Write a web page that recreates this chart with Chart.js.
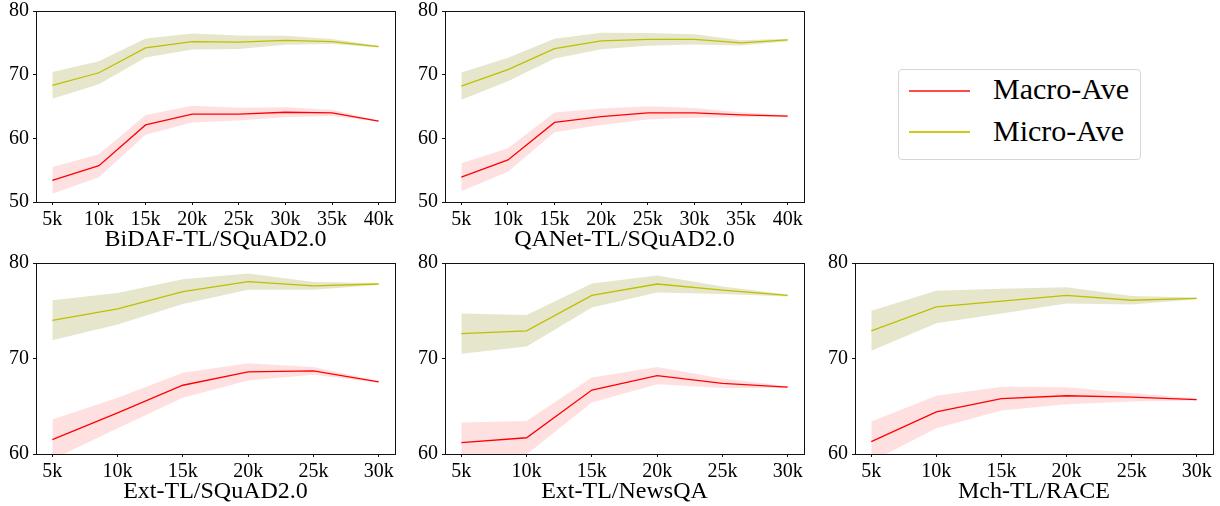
<!DOCTYPE html>
<html>
<head>
<meta charset="utf-8">
<script src="https://cdn.jsdelivr.net/npm/chart.js@4.4.1/dist/chart.umd.min.js"></script>
<style>
  body { margin: 0; background: #fff; width: 1220px; height: 506px; overflow: hidden; position: relative; font-family: "Liberation Serif", serif; }
  .panel { position: absolute; }
  #legend { position: absolute; left: 898px; top: 69px; width: 243px; height: 91px; border: 1px solid #d6d6d6; border-radius: 4px; box-sizing: border-box; }
  .item { position: absolute; left: 94px; font-size: 30px; line-height: 30px; color: #000; white-space: nowrap; }
  .swatch { position: absolute; left: 10px; width: 61px; height: 2px; }
</style>
</head>
<body>
<div class="panel" id="p1"><canvas id="c1"></canvas></div>
<div class="panel" id="p2"><canvas id="c2"></canvas></div>
<div class="panel" id="p3"><canvas id="c3"></canvas></div>
<div class="panel" id="p4"><canvas id="c4"></canvas></div>
<div class="panel" id="p5"><canvas id="c5"></canvas></div>
<div id="legend">
  <div class="swatch" style="top:20px;background:#ff4a4a"></div>
  <div class="item" style="top:4px">Macro-Ave</div>
  <div class="swatch" style="top:61px;background:#cccc10"></div>
  <div class="item" style="top:46px">Micro-Ave</div>
</div>
<script>
// training sizes (thousands)
const stepsLong = [5, 10, 15, 20, 25, 30, 35, 40];
const stepsShort = [5, 10, 15, 20, 25, 30];
const yTicksTop = [50, 60, 70, 80];
const yTicksBottom = [60, 70, 80];

// BiDAF-TL/SQuAD2.0
const bidafMacro = [53.4, 55.7, 62.1, 63.8, 63.8, 64.1, 64.0, 62.7];
const bidafMacroErr = [2.1, 1.8, 1.55, 1.3, 1.0, 0.8, 0.5, 0.1];
const bidafMicro = [68.3, 70.3, 74.2, 75.2, 75.1, 75.4, 75.2, 74.4];
const bidafMicroErr = [2.1, 1.8, 1.5, 1.25, 1.05, 0.7, 0.4, 0.15];

// QANet-TL/SQuAD2.0
const qanetMacro = [53.9, 56.6, 62.5, 63.4, 64.0, 64.0, 63.7, 63.5];
const qanetMacroErr = [2.2, 1.85, 1.55, 1.3, 1.05, 0.75, 0.4, 0.15];
const qanetMicro = [68.2, 70.8, 74.1, 75.3, 75.55, 75.55, 75.0, 75.45];
const qanetMicroErr = [2.15, 1.85, 1.55, 1.3, 1.0, 0.8, 0.4, 0.2];

// Ext-TL/SQuAD2.0
const extSqMacro = [61.5, 64.3, 67.2, 68.6, 68.7, 67.55];
const extSqMacroErr = [2.1, 1.6, 1.3, 0.9, 0.4, 0.1];
const extSqMicro = [74.0, 75.2, 77.0, 78.05, 77.6, 77.8];
const extSqMicroErr = [2.1, 1.65, 1.3, 0.85, 0.4, 0.1];

// Ext-TL/NewsQA
const extNqMacro = [61.2, 61.7, 66.7, 68.2, 67.4, 67.0];
const extNqMacroErr = [2.1, 1.75, 1.3, 0.9, 0.5, 0.1];
const extNqMicro = [72.6, 72.9, 76.6, 77.8, 77.15, 76.6];
const extNqMicroErr = [2.1, 1.65, 1.25, 0.9, 0.4, 0.1];

// Mch-TL/RACE
const raceMacro = [61.3, 64.4, 65.8, 66.1, 65.95, 65.7];
const raceMacroErr = [2.1, 1.7, 1.25, 0.9, 0.45, 0.1];
const raceMicro = [72.9, 75.4, 76.0, 76.6, 76.1, 76.3];
const raceMicroErr = [2.1, 1.7, 1.3, 0.85, 0.45, 0.1];

const RED = '#ff0000';
const OLIVE = '#bfbf00';
const RED_BAND = 'rgba(255,0,0,0.12)';
const OLIVE_BAND = 'rgba(128,128,0,0.2)';
const FONT = 'Liberation Serif';

const Y_AXIS_W = 36, TOP_PAD = 12, X_AXIS_H = 52, RIGHT_PAD = 6;

const frame = {
    id: 'frame',
    afterDraw(chart) {
        const a = chart.chartArea, ctx = chart.ctx;
        ctx.save();
        ctx.strokeStyle = '#111';
        ctx.lineWidth = 1;
        ctx.strokeRect(Math.round(a.left) + 0.5, Math.round(a.top) + 0.5,
            Math.round(a.right - a.left), Math.round(a.bottom - a.top));
        ctx.restore();
    }
};

function pts(xs, ys, off) {
    return xs.map((x, i) => ({ x: x, y: ys[i] + off[i] }));
}

function makePanel(n, box, steps, macro, macroErr, micro, microErr, yTicks, title) {
    const wrap = document.getElementById('p' + n);
    let left = box.left - Y_AXIS_W, top = box.top - TOP_PAD;
    let w = box.right - box.left + Y_AXIS_W + RIGHT_PAD;
    let h = box.bottom - box.top + TOP_PAD + X_AXIS_H;
    const place = () => {
        wrap.style.left = left + 'px';
        wrap.style.top = top + 'px';
        wrap.style.width = w + 'px';
        wrap.style.height = h + 'px';
    };
    place();

    const zero = steps.map(() => 0);
    const neg = e => e.map(v => -v);
    const span = steps[steps.length - 1] - steps[0];

    const band = (color) => ({ borderWidth: 0, pointRadius: 0, backgroundColor: color, order: 2 });
    const line = (color) => ({ borderColor: color, borderWidth: 1.3, pointRadius: 0, fill: false, order: 1 });

    const chart = new Chart(document.getElementById('c' + n), {
        type: 'line',
        data: {
            datasets: [
                { ...band(OLIVE_BAND), data: pts(steps, micro, microErr), fill: '+1' },
                { ...band(OLIVE_BAND), data: pts(steps, micro, neg(microErr)), fill: false },
                { ...band(RED_BAND), data: pts(steps, macro, macroErr), fill: '+1' },
                { ...band(RED_BAND), data: pts(steps, macro, neg(macroErr)), fill: false },
                { ...line(RED), label: 'Macro-Ave', data: pts(steps, macro, zero) },
                { ...line(OLIVE), label: 'Micro-Ave', data: pts(steps, micro, zero) }
            ]
        },
        options: {
            responsive: true,
            maintainAspectRatio: false,
            animation: false,
            layout: { padding: { top: TOP_PAD, right: RIGHT_PAD, left: 0, bottom: 0 } },
            plugins: { legend: { display: false }, tooltip: { enabled: false } },
            scales: {
                x: {
                    type: 'linear',
                    min: steps[0] - span * 0.05,
                    max: steps[steps.length - 1] + span * 0.05,
                    afterBuildTicks: s => { s.ticks = steps.map(v => ({ value: v })); },
                    afterFit: s => { s.height = X_AXIS_H; },
                    grid: { drawOnChartArea: false, drawTicks: true, tickLength: 3, color: '#111' },
                    border: { display: true, color: '#111' },
                    ticks: { callback: v => v + 'k', color: '#000', padding: 3, maxRotation: 0, autoSkip: false,
                             font: { family: FONT, size: 20 } },
                    title: { display: true, text: title, color: '#000', padding: { top: 0, bottom: 0 },
                             font: { family: FONT, size: 24 } }
                },
                y: {
                    min: yTicks[0],
                    max: yTicks[yTicks.length - 1],
                    afterBuildTicks: s => { s.ticks = yTicks.map(v => ({ value: v })); },
                    afterFit: s => { s.width = Y_AXIS_W; },
                    grid: { drawOnChartArea: false, drawTicks: true, tickLength: 3, color: '#111' },
                    border: { display: true, color: '#111' },
                    ticks: { color: '#000', padding: 4, font: { family: FONT, size: 20 } }
                }
            }
        },
        plugins: [frame]
    });

    // nudge the box so the plot area lands where it should
    const a = chart.chartArea;
    const dTop = a.top - TOP_PAD;
    const dLeft = a.left - Y_AXIS_W;
    const dRight = (w - RIGHT_PAD) - a.right;
    const dBottom = (h - X_AXIS_H) - a.bottom;
    if (dTop || dLeft || dRight || dBottom) {
        top -= dTop; left -= dLeft;
        w += dLeft + dRight; h += dTop + dBottom;
        place();
        chart.resize();
    }
}

makePanel(1, { left: 36, top: 11, right: 395, bottom: 202 }, stepsLong,
    bidafMacro, bidafMacroErr, bidafMicro, bidafMicroErr, yTicksTop, 'BiDAF-TL/SQuAD2.0');
makePanel(2, { left: 445, top: 11, right: 804, bottom: 202 }, stepsLong,
    qanetMacro, qanetMacroErr, qanetMicro, qanetMicroErr, yTicksTop, 'QANet-TL/SQuAD2.0');
makePanel(3, { left: 36, top: 263, right: 395, bottom: 454 }, stepsShort,
    extSqMacro, extSqMacroErr, extSqMicro, extSqMicroErr, yTicksBottom, 'Ext-TL/SQuAD2.0');
makePanel(4, { left: 445, top: 263, right: 804, bottom: 454 }, stepsShort,
    extNqMacro, extNqMacroErr, extNqMicro, extNqMicroErr, yTicksBottom, 'Ext-TL/NewsQA');
makePanel(5, { left: 855, top: 263, right: 1213, bottom: 454 }, stepsShort,
    raceMacro, raceMacroErr, raceMicro, raceMicroErr, yTicksBottom, 'Mch-TL/RACE');
</script>
</body>
</html>
